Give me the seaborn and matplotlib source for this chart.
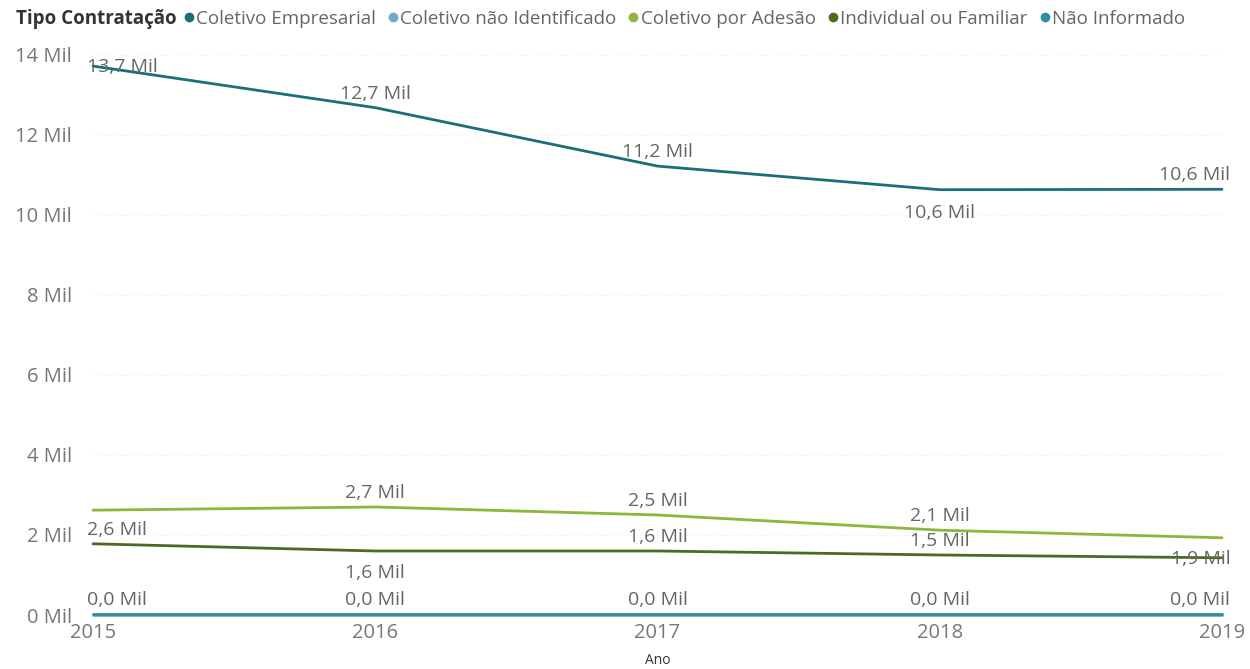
import matplotlib
matplotlib.use("Agg")
import matplotlib.pyplot as plt
import seaborn as sns
import pandas as pd
from matplotlib.lines import Line2D

anos = [2015, 2016, 2017, 2018, 2019]
series_names = ["Coletivo Empresarial", "Coletivo não Identificado", "Coletivo por Adesão",
                "Individual ou Familiar", "Não Informado"]
empresarial = [13.72, 12.68, 11.22, 10.63, 10.64]
nao_identificado = [0.01, 0.01, 0.01, 0.01, 0.01]
adesao = [2.62, 2.70, 2.50, 2.12, 1.93]
individual = [1.78, 1.60, 1.60, 1.50, 1.43]
nao_informado = [0.02, 0.02, 0.02, 0.02, 0.02]
yticks = [0, 2, 4, 6, 8, 10, 12, 14]

colors = ["#1B6E7B", "#6FA9C6", "#8DB73C", "#4C6A22", "#2A8FA0"]

values = [empresarial, nao_identificado, adesao, individual, nao_informado]
rows = []
for name, vals in zip(series_names, values):
    for a, v in zip(anos, vals):
        rows.append({"Ano": a, "Valor": v, "Tipo Contratação": name})
df = pd.DataFrame(rows)

sns.set_theme(style="white")
plt.rcParams['font.family'] = ['Open Sans', 'DejaVu Sans']

fig = plt.figure(figsize=(12.5, 6.69), dpi=100)
ax = fig.add_axes([0.0744, 0.0807, 0.9032, 0.8373])

sns.lineplot(data=df, x="Ano", y="Valor", hue="Tipo Contratação", hue_order=series_names,
             palette=colors, linewidth=2.0, ax=ax, legend=False, clip_on=False)

ax.set_xlim(2015, 2019)
ax.set_ylim(0, 14)
ax.set_yticks(yticks)
ax.set_yticklabels([f"{t} Mil" for t in yticks], color="#777777", fontsize=14.5)
ax.set_xticks(anos)
ax.set_xticklabels([str(a) for a in anos], color="#777777", fontsize=14.5)
ax.tick_params(axis="x", length=0, pad=6)
ax.tick_params(axis="y", length=0, pad=15)
ax.set_xlabel("Ano", fontsize=10, color="#333333", labelpad=7)
ax.set_ylabel("")
for s in ax.spines.values():
    s.set_visible(False)
ax.grid(axis="y", color="#eeeeee", linestyle=(0, (1, 2)), linewidth=0.8)

def fmt(v):
    return f"{v:.1f}".replace(".", ",") + " Mil"

# label placement: (series index -> dy points per year)
placements = {
    0: [-1, 10, 10, -17, 10],
    2: [-14, 10, 10, 10, -15],
    3: [None, -16, 10, 10, None],
    4: [10, 10, 10, 10, 10],
}
for si, dys in placements.items():
    for yi, dy in enumerate(dys):
        if dy is None:
            continue
        x = anos[yi]
        v = values[si][yi]
        ha = "center"
        dx = 0
        if yi == 0:
            ha, dx = "left", -4
        elif yi == len(anos) - 1:
            ha, dx = "right", 6
        ax.annotate(fmt(v), (x, v), xytext=(dx, dy), textcoords="offset points",
                    ha=ha, va="center", fontsize=14, color="#666666",
                    annotation_clip=False)

fig.text(0.0128, 0.972, "Tipo Contratação", fontsize=13.5, fontweight="bold",
         color="#333333", va="center")
handles = [Line2D([0], [0], marker="o", linestyle="", markersize=6,
                  markerfacecolor=c, markeredgecolor=c) for c in colors]
fig.legend(handles, series_names, loc="center left", bbox_to_anchor=(0.1456, 0.972),
           ncol=5, frameon=False, fontsize=13.5, handletextpad=0.05, columnspacing=0.55,
           handlelength=0.7, borderaxespad=0, borderpad=0, labelcolor="#666666")

fig.savefig("out.png", dpi=100)
